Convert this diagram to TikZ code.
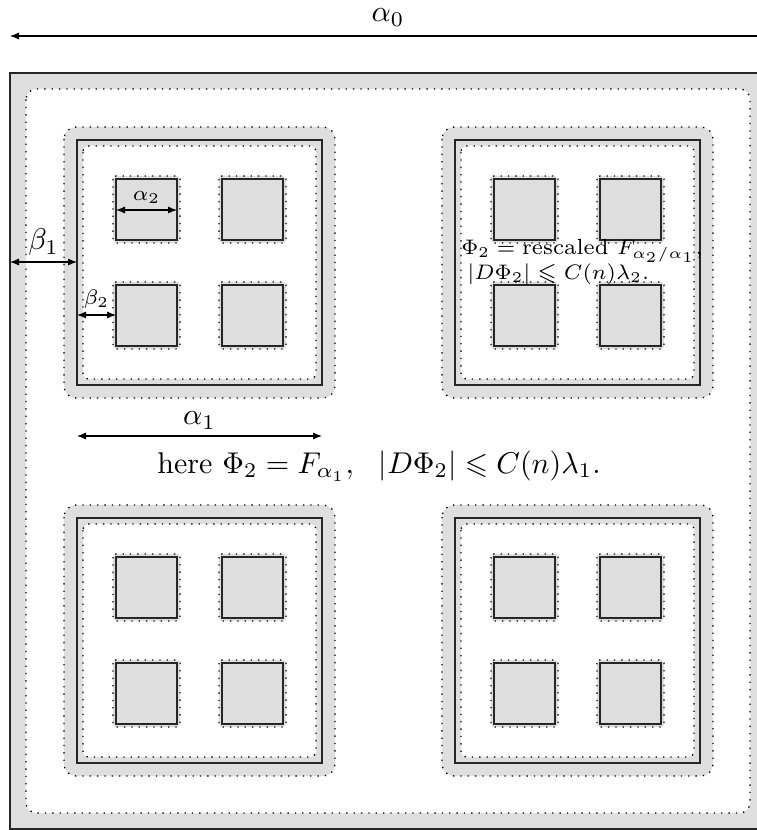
\documentclass[tikz,border=0pt]{standalone}
\usepackage{amsmath}
\usepackage{amssymb}
\usepackage{xcolor}
\usepackage{tikz}
\usetikzlibrary{arrows.meta}

\begin{document}
\begin{tikzpicture}[
    x=0.3333pt, y=-0.3333pt,
    edge/.style={draw=black!85, line width=0.5pt},
    nbhd/.style={fill=black!13, draw=black, dotted, line width=0.45pt},
    hole/.style={fill=white, draw=black, dotted, line width=0.45pt},
    cube/.style={fill=black!13, draw=black!85, line width=0.5pt},
    dim/.style={{Latex[length=3pt,width=2.4pt]}-{Latex[length=3pt,width=2.4pt]}, line width=0.4pt},
    lbl/.style={above, inner sep=2pt}
]
\useasboundingbox (0,0) rectangle (757,830);
\clip (0,0) rectangle (757,830);

% level 0
\fill[black!13] (10,73) rectangle (766,829);
\draw[hole, rounded corners=3.5pt] (26,89) rectangle (750,813);
\draw[edge] (10,73) rectangle (766,829);

% level 1 and level 2 cubes
\foreach \x/\y in {77/140, 455/140, 77/518, 455/518} {
    \draw[nbhd, rounded corners=4pt] (\x-13,\y-13) rectangle (\x+258,\y+258);
    \draw[edge, fill=black!13] (\x,\y) rectangle (\x+245,\y+245);
    \draw[hole, rounded corners=2pt] (\x+6,\y+6) rectangle (\x+239,\y+239);
    \foreach \u/\v in {39/39, 145/39, 39/145, 145/145} {
        \draw[nbhd, rounded corners=1pt] (\x+\u-3,\y+\v-3) rectangle (\x+\u+64,\y+\v+64);
        \draw[cube] (\x+\u,\y+\v) rectangle (\x+\u+61,\y+\v+61);
    }
}

% measures
\coordinate (a0l) at (10,36);
\coordinate (a0r) at (766,36);
\draw[dim] (a0l) -- (a0r) node[lbl, midway, inner sep=3pt] {$\alpha_0$};

\coordinate (b1l) at (10,262);
\coordinate (b1r) at (77,262);
\draw[dim] (b1l) -- (b1r) node[lbl, midway] {$\beta_1$};

\coordinate (b2l) at (77,315);
\coordinate (b2r) at (116,315);
\draw[dim] (b2l) -- (b2r) node[lbl, midway, font=\scriptsize] {$\beta_2$};

\coordinate (a2l) at (116,210);
\coordinate (a2r) at (177,210);
\draw[dim] (a2l) -- (a2r) node[lbl, midway, font=\scriptsize] {$\alpha_2$};

\coordinate (a1l) at (77,436);
\coordinate (a1r) at (322,436);
\draw[dim] (a1l) -- (a1r) node[lbl, midway] {$\alpha_1$};

% texts
\node (here) at (379,466) {here $\Phi_2 = F_{\alpha_1},\ \ |D\Phi_2| \leqslant C(n)\lambda_1.$};
\node[font=\fontsize{7.3}{8.4}\selectfont, align=left, inner sep=0pt] (resc) at (582,262)
    {$\Phi_2 = \text{rescaled } F_{\alpha_2/\alpha_1},$\\\hspace*{2pt}$|D\Phi_2| \leqslant C(n)\lambda_2.$};
\end{tikzpicture}
\end{document}
